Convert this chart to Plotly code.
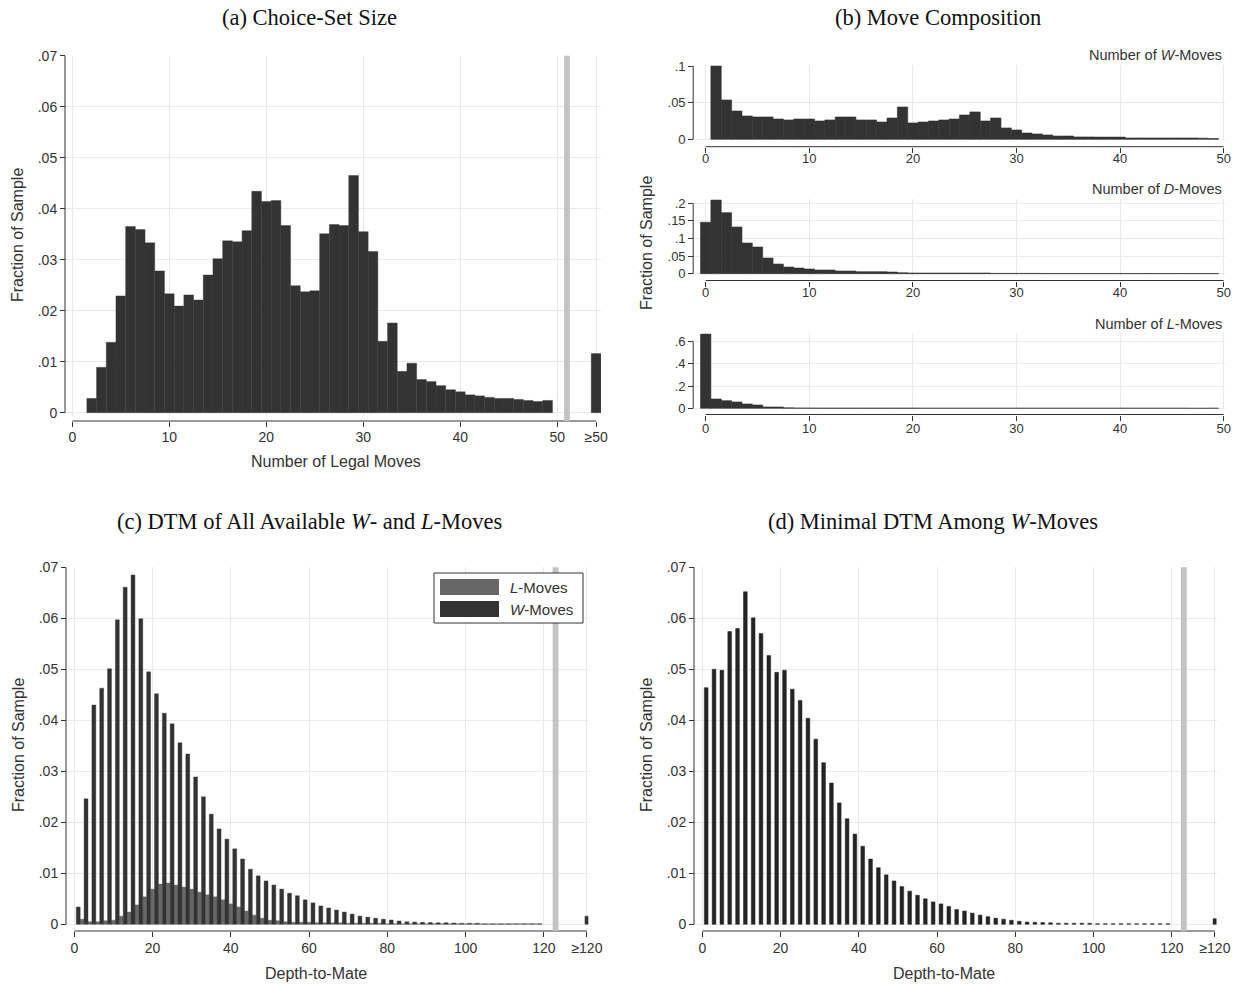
import plotly.graph_objects as go

W, H = 1236, 984

# ---------------- data ----------------
# (a) Choice-set size
legal_moves = list(range(2, 50))
legal_frac = [0.0028, 0.0089, 0.0138, 0.0229, 0.0365, 0.0359, 0.0333, 0.0278,
              0.0233, 0.0209, 0.0231, 0.0221, 0.0270, 0.0302, 0.0337, 0.0335,
              0.0357, 0.0434, 0.0414, 0.0416, 0.0367, 0.0249, 0.0237, 0.0239,
              0.0351, 0.0369, 0.0367, 0.0465, 0.0355, 0.0316, 0.0140, 0.0176,
              0.0081, 0.0097, 0.0065, 0.0061, 0.0053, 0.0045, 0.0041, 0.0035,
              0.0033, 0.0030, 0.0028, 0.0028, 0.0026, 0.0024, 0.0022, 0.0024]
legal_top_pos = [54]
legal_top_frac = [0.0116]
legal_ticks = [0, 10, 20, 30, 40, 50, 54]
legal_ticktext = ["0", "10", "20", "30", "40", "50", "≥50"]

# (b) Move composition
w_count = list(range(1, 50))
w_frac = [0.1000, 0.0536, 0.0386, 0.0318, 0.0305, 0.0305, 0.0277, 0.0264, 0.0277, 0.0277,
          0.0250, 0.0264, 0.0305, 0.0305, 0.0264, 0.0264, 0.0236, 0.0290, 0.0441, 0.0223,
          0.0236, 0.0250, 0.0264, 0.0277, 0.0332, 0.0373, 0.0250, 0.0290, 0.0155, 0.0127,
          0.0086, 0.0073, 0.0059, 0.0045, 0.0045, 0.0032, 0.0032, 0.0030, 0.0030, 0.0030,
          0.0018, 0.0018, 0.0018, 0.0018, 0.0018, 0.0018, 0.0018, 0.0016, 0.0010]
d_count = list(range(0, 50))
d_frac = [0.1460, 0.2095, 0.1735, 0.1327, 0.0872, 0.0758, 0.0445, 0.0275, 0.0190, 0.0160,
          0.0133, 0.0104, 0.0104, 0.0076, 0.0076, 0.0057, 0.0057, 0.0057, 0.0047, 0.0028,
          0.0019, 0.0019, 0.0019, 0.0019, 0.0019, 0.0019, 0.0019, 0.0019, 0.0008, 0.0008,
          0.0008, 0.0008, 0.0008, 0.0007, 0.0007, 0.0007, 0.0007, 0.0007, 0.0007, 0.0007,
          0.0006, 0.0006, 0.0006, 0.0006, 0.0006, 0.0006, 0.0006, 0.0006, 0.0006, 0.0006]
l_count = list(range(0, 50))
l_frac = [0.6690, 0.0840, 0.0690, 0.0570, 0.0390, 0.0300, 0.0120, 0.0120, 0.0040, 0.0030,
          0.0025, 0.0020, 0.0020, 0.0020, 0.0020, 0.0020, 0.0020, 0.0020, 0.0020, 0.0020,
          0.0020, 0.0010, 0.0010, 0.0010, 0.0010, 0.0010, 0.0010, 0.0010, 0.0010, 0.0010,
          0.0010, 0.0010, 0.0010, 0.0010, 0.0010, 0.0010, 0.0010, 0.0010, 0.0010, 0.0010,
          0.0010, 0.0010, 0.0010, 0.0010, 0.0010, 0.0010, 0.0010, 0.0000, 0.0000, 0.0010]
comp_ticks = [0, 10, 20, 30, 40, 50]

# (c) DTM of all available W- and L-moves
dtm_w_x = list(range(1, 120, 2))
dtm_w_frac = [0.0034, 0.0246, 0.0430, 0.0463, 0.0501, 0.0597, 0.0661, 0.0685, 0.0599, 0.0495,
              0.0452, 0.0414, 0.0393, 0.0356, 0.0334, 0.0289, 0.0250, 0.0216, 0.0187, 0.0167,
              0.0148, 0.0128, 0.0108, 0.0095, 0.0085, 0.0077, 0.0069, 0.0061, 0.0056, 0.0048,
              0.0042, 0.0036, 0.0032, 0.0028, 0.0024, 0.0020, 0.0016, 0.0014, 0.0012, 0.0010,
              0.00085, 0.00065, 0.0005, 0.00045, 0.0004, 0.00035, 0.0003, 0.0003, 0.00025, 0.0002,
              0.0002, 0.0002, 0.0001, 0.0001, 0.0001, 0.0001, 0.0001, 0.0001, 0.0001, 0.0001]
dtm_l_x = list(range(2, 120, 2))
dtm_l_frac = [0.0010, 0.0005, 0.0005, 0.0007, 0.0008, 0.0016, 0.0024, 0.0038, 0.0054, 0.0069,
              0.0079, 0.0081, 0.0077, 0.0073, 0.0069, 0.0063, 0.0058, 0.0054, 0.0048, 0.0040,
              0.0034, 0.0026, 0.0018, 0.0012, 0.0008, 0.0007, 0.0005, 0.0004, 0.0004, 0.0004,
              0.0003, 0.0003, 0.0003, 0.0003, 0.0002, 0.0002, 0.0002, 0.0002, 0.0002, 0.0001,
              0.0001, 0.0001, 0.0001, 0.0001, 0.0001, 0.0001, 0.0001, 0.0001, 0.0001, 0.0001,
              0.0001, 0.0001, 0.0001, 0.0001, 0.0001, 0.0001, 0.0001, 0.0001, 0.0001]
dtm_top_pos = [131]
dtm_w_top = [0.0016]

# (d) Minimal DTM among W-moves
min_dtm_x = list(range(1, 120, 2))
min_dtm_frac = [0.0464, 0.0500, 0.0498, 0.0574, 0.0580, 0.0652, 0.0601, 0.0570, 0.0527, 0.0494,
                0.0498, 0.0461, 0.0439, 0.0404, 0.0363, 0.0317, 0.0277, 0.0238, 0.0207, 0.0177,
                0.0153, 0.0128, 0.0111, 0.0097, 0.0085, 0.0074, 0.0065, 0.0057, 0.0050, 0.0044,
                0.0040, 0.0035, 0.0029, 0.0026, 0.0022, 0.0018, 0.0015, 0.0012, 0.0010, 0.0008,
                0.0006, 0.00045, 0.0004, 0.00035, 0.0003, 0.0002, 0.0002, 0.0002, 0.0002, 0.0002,
                0.00012, 0.00012, 0.00012, 0.00012, 0.00012, 0.00012, 0.00012, 0.00012, 0.00012, 0.00012]
min_dtm_top = [0.0011]
dtm_ticks = [0, 20, 40, 60, 80, 100, 120, 131]
dtm_ticktext = ["0", "20", "40", "60", "80", "100", "120", "≥120"]

frac7_ticks = [0, 0.01, 0.02, 0.03, 0.04, 0.05, 0.06, 0.07]
frac7_text = ["0", ".01", ".02", ".03", ".04", ".05", ".06", ".07"]

# ---------------- styling ----------------
SANS = "Liberation Sans, Arial, sans-serif"
SERIF = "Liberation Serif, Times New Roman, serif"
DARK = "#333333"
LGRAY = "#676767"
GRID = "#e9e9e9"
BAND = "#c4c4c4"
TXT = "#333333"


def px(xp):
    return xp / W


def py(yp):
    return 1 - yp / H


fig = go.Figure()
layout = dict(width=W, height=H, margin=dict(l=0, r=0, t=0, b=0, autoexpand=False),
              paper_bgcolor="white", plot_bgcolor="white", showlegend=False,
              barmode="overlay", shapes=[], annotations=[])

panels = {
    "a": dict(xl=65, xr=601, x0=72.3, xs=9.7, yt=55.7, yb=416, y0=412.7, ys=5100, xal=421, yal=65, so=-2),
    "bw": dict(xl=693.2, xr=1225, x0=705.7, xs=10.36, yt=65, yb=141, y0=139.3, ys=733, xal=146.7, yal=693.2, so=-5),
    "bd": dict(xl=693.2, xr=1225, x0=705.7, xs=10.36, yt=199.3, yb=275.5, y0=273.7, ys=352, xal=280.5, yal=693.2, so=-5),
    "bl": dict(xl=693.2, xr=1225, x0=705.7, xs=10.36, yt=333.3, yb=410, y0=408.3, ys=111, xal=414.5, yal=693.2, so=-3),
    "c": dict(xl=66, xr=588.3, x0=74.3, xs=3.913, yt=567.3, yb=926, y0=924.3, ys=5100, xal=931, yal=66, so=-1),
    "d": dict(xl=694, xr=1216.5, x0=702.3, xs=3.913, yt=567.3, yb=926, y0=924.3, ys=5100, xal=931, yal=694, so=-1),
}
ticks = {
    "a": (legal_ticks, legal_ticktext, frac7_ticks, frac7_text),
    "bw": (comp_ticks, [str(t) for t in comp_ticks], [0, 0.05, 0.1], ["0", ".05", ".1"]),
    "bd": (comp_ticks, [str(t) for t in comp_ticks], [0, 0.05, 0.1, 0.15, 0.2], ["0", ".05", ".1", ".15", ".2"]),
    "bl": (comp_ticks, [str(t) for t in comp_ticks], [0, 0.2, 0.4, 0.6], ["0", ".2", ".4", ".6"]),
    "c": (dtm_ticks, dtm_ticktext, frac7_ticks, frac7_text),
    "d": (dtm_ticks, dtm_ticktext, frac7_ticks, frac7_text),
}
tickfont_size = {"a": 14, "bw": 13, "bd": 13, "bl": 13, "c": 14, "d": 14}
order = ["a", "bw", "bd", "bl", "c", "d"]
axid = {}
for i, k in enumerate(order):
    n = "" if i == 0 else str(i + 1)
    axid[k] = ("x" + n, "y" + n, "xaxis" + n, "yaxis" + n)
    g = panels[k]
    xt, xtt, yt, ytt = ticks[k]
    fs = tickfont_size[k]
    layout[axid[k][2]] = dict(
        domain=[px(g["xl"]), px(g["xr"])],
        range=[(g["xl"] - g["x0"]) / g["xs"], (g["xr"] - g["x0"]) / g["xs"]],
        anchor="free", position=py(g["xal"]),
        tickvals=xt, ticktext=xtt, ticks="outside", ticklen=5, tickwidth=1, tickcolor=DARK,
        ticklabelstandoff=g["so"],
        showline=False, zeroline=False, showgrid=True, gridcolor=GRID, gridwidth=1,
        tickfont=dict(family=SANS, size=fs, color=TXT), fixedrange=True)
    layout[axid[k][3]] = dict(
        domain=[py(g["yb"]), py(g["yt"])],
        range=[(g["y0"] - g["yb"]) / g["ys"], (g["y0"] - g["yt"]) / g["ys"]],
        anchor="free", position=px(g["yal"]),
        tickvals=yt, ticktext=ytt, ticks="outside", ticklen=5, tickwidth=1, tickcolor=DARK,
        showline=False, zeroline=False, showgrid=True, gridcolor=GRID, gridwidth=1,
        tickfont=dict(family=SANS, size=fs, color=TXT), fixedrange=True)
    layout["shapes"].append(dict(type="line", xref=axid[k][0], yref="paper",
                                 x0=min(xt), x1=max(xt), y0=py(g["xal"]), y1=py(g["xal"]),
                                 line=dict(color=DARK, width=1)))
    layout["shapes"].append(dict(type="line", xref="paper", yref=axid[k][1],
                                 x0=px(g["yal"]), x1=px(g["yal"]), y0=min(yt), y1=max(yt),
                                 line=dict(color=DARK, width=1)))


def bar(k, x, y, color, width=1.0, lw=0.4):
    fig.add_trace(go.Bar(x=x, y=y, width=width, marker=dict(color=color, line=dict(color=color, width=lw)),
                         xaxis=axid[k][0], yaxis=axid[k][1], hoverinfo="x+y"))


bar("a", legal_moves, legal_frac, DARK)
bar("a", legal_top_pos, legal_top_frac, DARK)
bar("bw", w_count, w_frac, DARK, lw=0.6)
bar("bd", d_count, d_frac, DARK, lw=0.6)
bar("bl", l_count, l_frac, DARK, lw=0.6)
bar("c", dtm_l_x, dtm_l_frac, LGRAY)
bar("c", dtm_w_x, dtm_w_frac, DARK)
bar("c", dtm_top_pos, dtm_w_top, DARK)
bar("d", min_dtm_x, min_dtm_frac, "#242424", width=0.95, lw=0.5)
bar("d", dtm_top_pos, min_dtm_top, "#242424", width=0.95, lw=0.5)

for k, xa, xb in [("a", 50.7, 51.3), ("c", 122.25, 123.75), ("d", 122.3, 123.8)]:
    g = panels[k]
    layout["shapes"].append(dict(type="rect", xref=axid[k][0], yref="paper", x0=xa, x1=xb,
                                 y0=py(g["xal"]), y1=py(g["yt"]), fillcolor=BAND,
                                 line=dict(width=0), layer="above"))


def ann(text, x, y, size, family=SANS, xanchor="center", angle=0, color=TXT):
    layout["annotations"].append(dict(text=text, x=px(x), y=py(y), xref="paper", yref="paper",
                                      showarrow=False, xanchor=xanchor, yanchor="middle",
                                      textangle=angle, font=dict(family=family, size=size, color=color)))


TS = 22.5
ann("(a) Choice-Set Size", 309, 17, TS, SERIF, color="#111")
ann("(b) Move Composition", 938, 17, TS, SERIF, color="#111")
ann("(c) DTM of All Available <i>W</i>- and <i>L</i>-Moves", 309, 521, TS, SERIF, color="#111")
ann("(d) Minimal DTM Among <i>W</i>-Moves", 933, 521, TS, SERIF, color="#111")
AS = 16
ann("Number of Legal Moves", 336, 461, AS)
ann("Depth-to-Mate", 316, 973, AS)
ann("Depth-to-Mate", 944, 973, AS)
ann("Fraction of Sample", 18, 235, AS, angle=-90)
ann("Fraction of Sample", 646, 243, AS, angle=-90)
ann("Fraction of Sample", 18, 745, AS, angle=-90)
ann("Fraction of Sample", 646, 745, AS, angle=-90)
ann("Number of <i>W</i>-Moves", 1224, 55, 14.5, xanchor="right")
ann("Number of <i>D</i>-Moves", 1224, 189, 14.5, xanchor="right")
ann("Number of <i>L</i>-Moves", 1224, 324, 14.5, xanchor="right")

layout["shapes"].append(dict(type="rect", xref="paper", yref="paper", x0=px(434), x1=px(583),
                             y0=py(623), y1=py(573), fillcolor="white",
                             line=dict(color=DARK, width=1), layer="above"))
layout["shapes"].append(dict(type="rect", xref="paper", yref="paper", x0=px(440), x1=px(499),
                             y0=py(595), y1=py(579), fillcolor=LGRAY, line=dict(width=0), layer="above"))
layout["shapes"].append(dict(type="rect", xref="paper", yref="paper", x0=px(440), x1=px(499),
                             y0=py(617), y1=py(601), fillcolor=DARK, line=dict(width=0), layer="above"))
ann("<i>L</i>-Moves", 508, 587, 15, xanchor="left")
ann("<i>W</i>-Moves", 508, 609, 15, xanchor="left")

fig.update_layout(**layout)
fig.write_html("out.html")
